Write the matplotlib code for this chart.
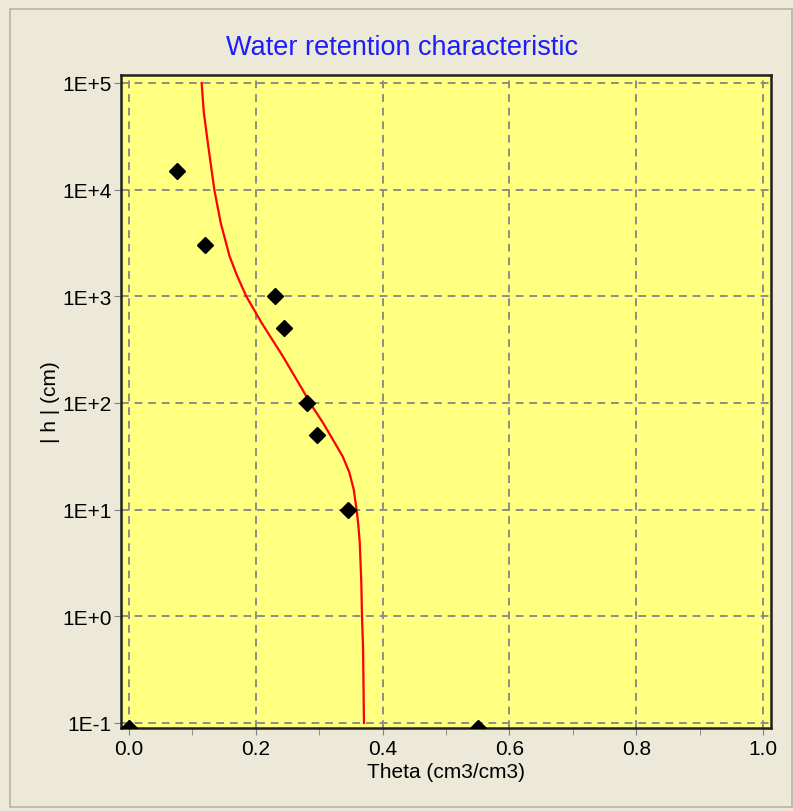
import numpy as np
import matplotlib
matplotlib.use("Agg")
import matplotlib.pyplot as plt
from matplotlib.patches import Rectangle

plt.rcParams['font.family'] = ['Liberation Sans', 'DejaVu Sans']

# measured points (theta, |h|)
obs_theta = [0.075, 0.12, 0.23, 0.245, 0.28, 0.296, 0.346, 0.0, 0.55]
obs_h = [15000, 3000, 1000, 500, 100, 50, 10, 0.09, 0.09]

# fitted retention curve
fit_h = [1e5, 53100, 25700, 1e4, 4900, 2390, 1585, 1000, 566, 275, 134, 100,
         65.2, 31.6, 22.4, 15.4, 10, 7.08, 4.86, 2.0, 1, 0.5, 0.1]
fit_theta = [0.1146, 0.118, 0.125, 0.1346, 0.1446, 0.1585, 0.170, 0.185,
             0.209, 0.2425, 0.2735, 0.2855, 0.306, 0.337, 0.3475, 0.3545,
             0.359, 0.3618, 0.364, 0.3665, 0.3675, 0.3692, 0.3706]

xticks = [0.0, 0.2, 0.4, 0.6, 0.8, 1.0]
xtick_labels = ["0.0", "0.2", "0.4", "0.6", "0.8", "1.0"]
yticks = [1e-1, 1e0, 1e1, 1e2, 1e3, 1e4, 1e5]
ytick_labels = ["1E-1", "1E+0", "1E+1", "1E+2", "1E+3", "1E+4", "1E+5"]

bg = "#ECE9D8"
fig = plt.figure(figsize=(7.93, 8.12), dpi=100, facecolor=bg)

# faint panel border
fig.patches.append(Rectangle((10 / 793, 0.005), 782 / 793, 1 - 0.005 - 10 / 812,
                             transform=fig.transFigure, fill=False,
                             edgecolor="#B8B5A8", linewidth=1.2))

ax = fig.add_axes([121 / 793, 1 - 729 / 812, 650 / 793, 653 / 812])
ax.set_facecolor("#FFFF80")

ax.plot(fit_theta, fit_h, color="red", linewidth=1.6, zorder=3)
ax.plot(obs_theta, obs_h, linestyle="none", marker="D", markersize=8,
        color="black", zorder=4, clip_on=True)

ax.set_yscale("log")
ax.set_xlim(-0.0126, 1.0126)
ax.set_ylim(10 ** -1.047, 10 ** 5.075)

ax.set_xticks(xticks)
ax.set_xticklabels(xtick_labels)
ax.set_xticks(np.arange(0.1, 1.0, 0.2), minor=True)
ax.set_yticks(yticks)
ax.set_yticklabels(ytick_labels)
ax.yaxis.set_minor_locator(matplotlib.ticker.NullLocator())

ax.tick_params(axis="both", which="both", direction="out", length=5,
               color="#808080", labelsize=15, labelcolor="black", pad=1.5)
ax.tick_params(axis="x", which="major", pad=3)

ax.grid(True, which="major", color="#8C8C8C", linestyle=(0, (4, 3)),
        linewidth=1.4, zorder=1)
ax.set_axisbelow(True)

for side in ["left", "bottom", "top", "right"]:
    ax.spines[side].set_color("#202020")
    ax.spines[side].set_linewidth(1.8)

ax.set_xlabel("Theta (cm3/cm3)", fontsize=15, labelpad=3)
ax.set_ylabel("| h | (cm)", fontsize=15, labelpad=2)
fig.text(402 / 793, 1 - 48 / 812, "Water retention characteristic",
         fontsize=19.5, color="#1C1CFF", ha="center", va="center")

fig.savefig("out.png", dpi=100, facecolor=bg)
